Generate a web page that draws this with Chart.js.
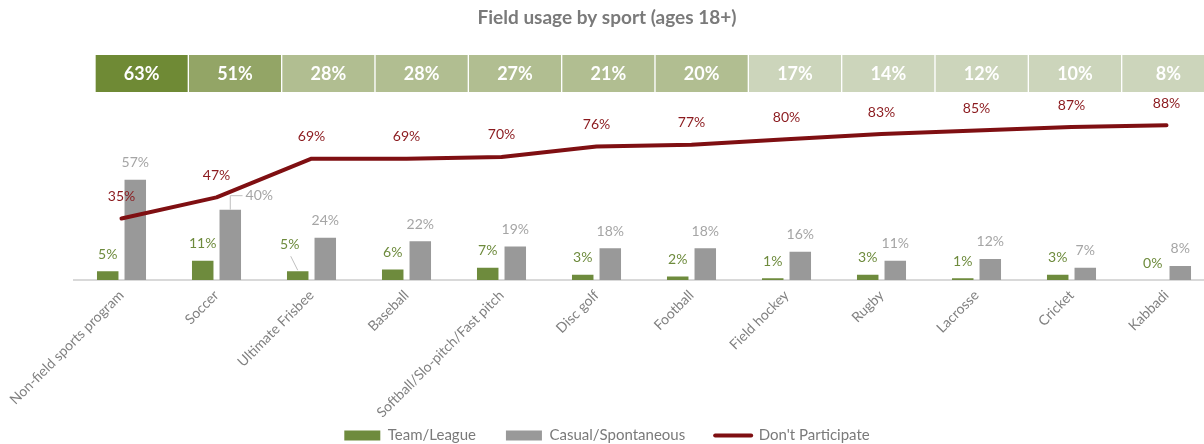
<!DOCTYPE html>
<html>
<head>
<meta charset="utf-8">
<script src="https://cdn.jsdelivr.net/npm/chart.js@4.4.1/dist/chart.umd.min.js"></script>
<style>
  body { margin: 0; background: #fff; }
  #wrap { position: relative; width: 1204px; height: 444px; overflow: hidden; }
  #main { position: absolute; left: 0; top: 0; }
  #boxes { position: absolute; left: 95px; top: 55px; }
</style>
</head>
<body>
<div id="wrap">
  <canvas id="main" width="1230" height="444"></canvas>
  <canvas id="boxes" width="1120" height="37"></canvas>
</div>
<script>
const categories = [
  "Non-field sports program", "Soccer", "Ultimate Frisbee", "Baseball",
  "Softball/Slo-pitch/Fast pitch", "Disc golf", "Football", "Field hockey",
  "Rugby", "Lacrosse", "Cricket", "Kabbadi",
];
const participation = [63, 51, 28, 28, 27, 21, 20, 17, 14, 12, 10, 8];
const teamLeague = [5, 11, 5, 6, 7, 3, 2, 1, 3, 1, 3, 0];
const casual = [57, 40, 24, 22, 19, 18, 18, 16, 11, 12, 7, 8];
const dontParticipate = [35, 47, 69, 69, 70, 76, 77, 80, 83, 85, 87, 88];

Chart.defaults.font.family = "Lato";

// a few labels were moved off the line in the original, with a leader line
const nudges = {
  "1-1": { dx: 29, dy: 3, leader: "elbow" },
  "0-2": { dx: -8, dy: -10, leader: "straight" },
};

const valueLabels = {
  id: "valueLabels",
  afterDatasetsDraw(chart) {
    const ctx = chart.ctx;
    ctx.save();
    ctx.font = "14px Lato";
    ctx.textAlign = "center";
    ctx.textBaseline = "middle";
    chart.data.datasets.forEach((ds, di) => {
      const meta = chart.getDatasetMeta(di);
      const lift = ds.type === "line" ? 22 : 17;
      meta.data.forEach((el, i) => {
        const n = nudges[di + "-" + i] || {};
        const x = el.x + (n.dx || 0);
        const y = el.y - lift + (n.dy || 0);
        const text = ds.data[i] + "%";
        if (n.leader) {
          ctx.strokeStyle = "#bfbfbf";
          ctx.lineWidth = 1;
          ctx.beginPath();
          if (n.leader === "elbow") {
            ctx.moveTo(el.x, el.y);
            ctx.lineTo(el.x, y);
            ctx.lineTo(x - ctx.measureText(text).width / 2 - 3, y);
          } else {
            ctx.moveTo(x + 1, y + 12);
            ctx.lineTo(el.x, el.y - 1);
          }
          ctx.stroke();
        }
        ctx.fillStyle = ds.labelColor;
        ctx.fillText(text, x, y);
      });
    });
    ctx.restore();
  },
};

// the long rotated labels run down past the legend top, so don't clip them
const unclipTicks = {
  id: "unclipTicks",
  afterLayout(chart) {
    chart.scales.x.bottom = chart.height;
  },
};

new Chart(document.getElementById("main"), {
  type: "bar",
  plugins: [valueLabels, unclipTicks],
  options: {
    responsive: false,
    animation: false,
    layout: { padding: { left: 0, right: 16, top: 0, bottom: -9 } },
    plugins: {
      title: {
        display: true,
        text: "Field usage by sport (ages 18+)",
        color: "#7a7a7a",
        font: { size: 19, weight: "bold" },
        padding: { top: 6, bottom: 75.4 },
      },
      legend: {
        position: "bottom",
        labels: {
          usePointStyle: true,
          pointStyleWidth: 36,
          boxHeight: 10,
          padding: 30,
          color: "#7a7a7a",
          font: { size: 15 },
          sort: (a, b) => a.datasetIndex - b.datasetIndex,
          generateLabels(chart) {
            return Chart.defaults.plugins.legend.labels
              .generateLabels(chart)
              .map((item) => {
                const ds = chart.data.datasets[item.datasetIndex];
                if (ds.type === "line") {
                  item.pointStyle = "line";
                  item.lineWidth = 4;
                  item.lineCap = "round";
                  item.strokeStyle = ds.borderColor;
                } else {
                  item.pointStyle = "rect";
                  item.lineWidth = 0;
                }
                return item;
              });
          },
        },
      },
      tooltip: { enabled: false },
    },
    scales: {
      x: {
        grid: { display: false, drawTicks: false },
        border: { display: true, color: "#d9d9d9", width: 2 },
        ticks: {
          autoSkip: false,
          maxRotation: 45,
          minRotation: 45,
          padding: 7,
          color: "#808080",
          font: { size: 14 },
        },
        afterFit: (axis) => {
          axis.height = 118;
        },
      },
      y: {
        min: 0,
        max: 100,
        ticks: { display: false },
        grid: { display: false },
        border: { display: false },
        afterFit: (axis) => {
          axis.width = 74;
        },
      },
    },
  },
  data: {
    labels: categories,
    datasets: [
      {
        label: "Team/League",
        data: teamLeague,
        backgroundColor: "#6e8b3d",
        labelColor: "#6e8b3d",
        categoryPercentage: 0.58,
        barPercentage: 0.78,
        order: 1,
      },
      {
        label: "Casual/Spontaneous",
        data: casual,
        backgroundColor: "#999999",
        labelColor: "#a5a5a5",
        categoryPercentage: 0.58,
        barPercentage: 0.78,
        order: 2,
      },
      {
        type: "line",
        label: "Don't Participate",
        data: dontParticipate,
        borderColor: "#7f0f12",
        backgroundColor: "#7f0f12",
        labelColor: "#8b1a1e",
        borderWidth: 4,
        borderCapStyle: "round",
        borderJoinStyle: "round",
        tension: 0,
        pointRadius: 0,
        fill: false,
        order: 0,
      },
    ],
  },
});

// row of overall participation boxes above the plot
function boxColor(v) {
  if (v >= 60) return "#6f8a35";
  if (v >= 40) return "#93a566";
  if (v >= 20) return "#b1be91";
  return "#ccd5bb";
}

const boxText = {
  id: "boxText",
  afterDatasetsDraw(chart) {
    const ctx = chart.ctx;
    ctx.save();
    ctx.font = "bold 18px Lato";
    ctx.fillStyle = "#ffffff";
    ctx.textAlign = "center";
    ctx.textBaseline = "middle";
    chart.getDatasetMeta(0).data.forEach((el, i) => {
      ctx.fillText(participation[i] + "%", el.x, (el.y + el.base) / 2 + 1);
    });
    ctx.restore();
  },
};

new Chart(document.getElementById("boxes"), {
  type: "bar",
  plugins: [boxText],
  options: {
    responsive: false,
    animation: false,
    layout: { padding: 0 },
    plugins: { legend: { display: false }, tooltip: { enabled: false } },
    scales: {
      x: { display: false },
      y: { display: false, min: 0, max: 1 },
    },
  },
  data: {
    labels: categories,
    datasets: [
      {
        label: "Participation",
        data: participation.map(() => 1),
        backgroundColor: participation.map(boxColor),
        borderColor: "#ffffff",
        borderWidth: { left: 1, right: 1, top: 0, bottom: 0 },
        borderSkipped: false,
        categoryPercentage: 1,
        barPercentage: 1,
      },
    ],
  },
});
</script>
</body>
</html>
